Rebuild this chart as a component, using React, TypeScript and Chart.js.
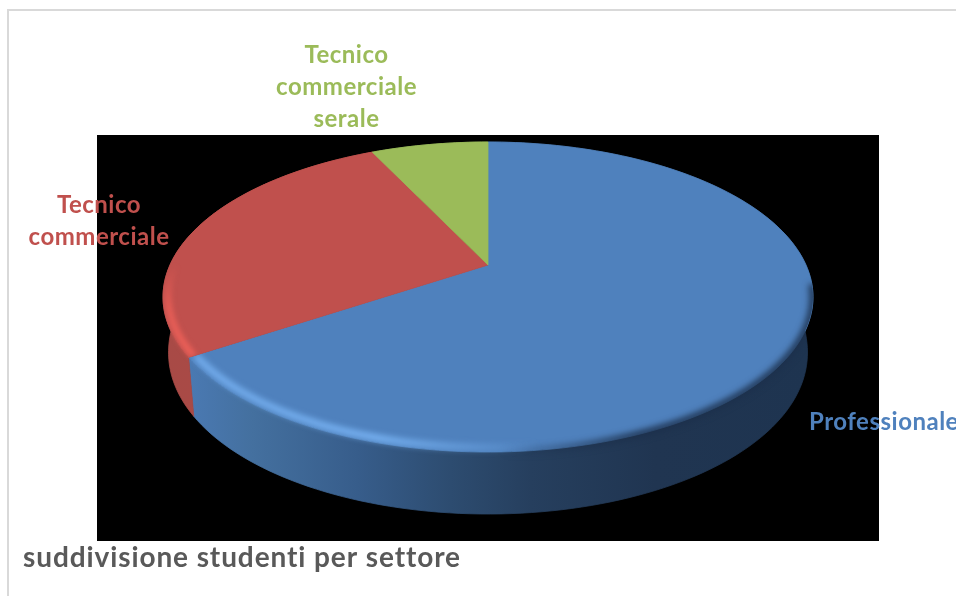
import React, { useEffect, useRef } from "react";
import { Chart, registerables } from "chart.js";

Chart.register(...registerables);

const categories = ["Professionale", "Tecnico commerciale", "Tecnico commerciale serale"];
const shares = [65.7, 27.2, 7.1];
const sliceColors = ["#4f81bd", "#c0504d", "#9bbb59"];
const labelLines = [["Professionale"], ["Tecnico", "commerciale"], ["Tecnico", "commerciale", "serale"]];
const chartTitle = "suddivisione studenti per settore";

const FONT = "Lato, Carlito, 'Open Sans', sans-serif";

// Perspective projection of the unit disc onto the page.
const TILT = 0.2065;
const HALF_WIDTH = 318;
const HALF_DEPTH = 148.4;

type Pt = { x: number; y: number; v: number };

function projector(area: { left: number; right: number; top: number }) {
  const cx = (area.left + area.right) / 2;
  const apexY = area.top + 130;
  return (angle: number, r = 1): Pt => {
    const u = Math.cos(angle) * r;
    const v = -Math.sin(angle) * r;
    const w = 1 + TILT * v;
    return { x: cx + (HALF_WIDTH * u) / w, y: apexY - (HALF_DEPTH * v) / w, v };
  };
}

function rimPoints(project: (a: number, r?: number) => Pt, start: number, end: number, r = 1) {
  const steps = Math.max(8, Math.ceil(((end - start) / (Math.PI * 2)) * 240));
  const pts: Pt[] = [];
  for (let i = 0; i <= steps; i++) pts.push(project(start + ((end - start) * i) / steps, r));
  return pts;
}

function lowered(p: Pt, cx: number): { x: number; y: number } {
  const drop = 50 + 12 * Math.sqrt(Math.max(0, -p.v));
  return { x: cx + (p.x - cx) * 0.983, y: p.y + drop };
}

function horizontalGradient(ctx: CanvasRenderingContext2D, x0: number, x1: number, stops: [number, string][]) {
  const g = ctx.createLinearGradient(x0, 0, x1, 0);
  stops.forEach(([o, c]) => g.addColorStop(o, c));
  return g;
}

function polyline(pts: { x: number; y: number }[]) {
  const path = new Path2D();
  pts.forEach((p, k) => (k ? path.lineTo(p.x, p.y) : path.moveTo(p.x, p.y)));
  return path;
}

const disc3d = {
  id: "disc3d",
  beforeDraw(chart: Chart) {
    const { ctx, chartArea } = chart;
    ctx.save();
    ctx.fillStyle = "#ffffff";
    ctx.fillRect(0, 0, chart.width, chart.height);
    // Page frame, open to the right and bottom
    ctx.strokeStyle = "#d9d9d9";
    ctx.lineWidth = 2;
    ctx.strokeRect(8, 10, chart.width + 20, chart.height + 20);
    ctx.fillStyle = "#000000";
    ctx.fillRect(chartArea.left, chartArea.top, chartArea.width, chartArea.height);
    ctx.restore();
  },
  beforeDatasetsDraw(chart: Chart) {
    const { ctx, chartArea } = chart;
    const project = projector(chartArea);
    const cx = (chartArea.left + chartArea.right) / 2;
    const apex = project(0, 0);
    const arcs = chart.getDatasetMeta(0).data as any[];

    const sideFill = [
      horizontalGradient(ctx, 190, 810, [
        [0, "#4a79b2"],
        [0.1, "#44709f"],
        [0.27, "#375d8b"],
        [0.42, "#2d4c70"],
        [0.55, "#263f5e"],
        [0.75, "#203551"],
        [1, "#1e3450"],
      ]),
      horizontalGradient(ctx, 163, 196, [
        [0, "#a84a46"],
        [1, "#a94a46"],
      ]),
      "#6f8a40",
    ];

    // Side wall under each slice's rim; the thin stroke closes seams between slices
    const walls = arcs.map((arc) => {
      const pts = rimPoints(project, arc.startAngle, arc.endAngle);
      const wall = polyline([...pts, ...[...pts].reverse().map((p) => lowered(p, cx))]);
      wall.closePath();
      return wall;
    });
    ctx.lineWidth = 0.8;
    walls.forEach((wall, i) => {
      ctx.fillStyle = sideFill[i];
      ctx.strokeStyle = sideFill[i];
      ctx.fill(wall);
      ctx.stroke(wall);
    });

    // Top face of each slice, with a soft bevel along the rim
    arcs.forEach((arc, i) => {
      const pts = rimPoints(project, arc.startAngle, arc.endAngle);
      const outline = polyline([apex, ...pts]);
      outline.closePath();
      ctx.fillStyle = sliceColors[i];
      ctx.strokeStyle = sliceColors[i];
      ctx.lineWidth = 0.8;
      ctx.fill(outline);
      ctx.stroke(outline);
      if (i === 2) return;

      const shape = new Path2D();
      shape.addPath(outline);
      shape.addPath(walls[i]);
      ctx.save();
      ctx.clip(shape);
      if (i === 0) {
        // Dark shoulder on the right of the rim
        ctx.filter = "blur(3px)";
        ctx.lineWidth = 7;
        ctx.strokeStyle = horizontalGradient(ctx, 190, 813, [
          [0.5, "rgba(28,48,76,0)"],
          [0.6, "rgba(28,48,76,0.45)"],
          [0.72, "rgba(28,48,76,0.95)"],
          [1, "rgba(28,48,76,0.95)"],
        ]);
        ctx.stroke(polyline(rimPoints(project, arc.startAngle, arc.endAngle, 1.0).filter((p) => p.v < -0.12 && p.x > 460)));
        // Light edge on the left of the rim
        ctx.filter = "blur(3px)";
        ctx.lineWidth = 6;
        ctx.strokeStyle = horizontalGradient(ctx, 190, 813, [
          [0, "rgba(125,185,250,0.9)"],
          [0.3, "rgba(125,185,250,1)"],
          [0.46, "rgba(125,185,250,0.4)"],
          [0.56, "rgba(125,185,250,0)"],
        ]);
        ctx.stroke(polyline(rimPoints(project, arc.startAngle, arc.endAngle, 0.98).filter((p) => p.v < -0.12 && p.x < 600)));
      } else {
        const g = ctx.createLinearGradient(0, 265, 0, 350);
        g.addColorStop(0, "rgba(236,96,88,0)");
        g.addColorStop(0.5, "rgba(236,96,88,0.8)");
        g.addColorStop(1, "rgba(236,96,88,0.95)");
        ctx.filter = "blur(2.5px)";
        ctx.lineWidth = 7;
        ctx.strokeStyle = g;
        ctx.stroke(polyline(rimPoints(project, arc.startAngle, arc.endAngle, 0.985).filter((p) => p.v < 0.08)));
      }
      ctx.restore();
    });
    return false;
  },
  afterDraw(chart: Chart) {
    const { ctx } = chart;
    const anchors = [
      { x: 884, y: 422, lead: 32 },
      { x: 99, y: 205, lead: 32 },
      { x: 346.5, y: 55, lead: 32 },
    ];
    ctx.save();
    ctx.font = `bold 24px ${FONT}`;
    (ctx as any).letterSpacing = "0.5px";
    ctx.textAlign = "center";
    ctx.textBaseline = "middle";
    labelLines.forEach((lines, i) => {
      ctx.fillStyle = sliceColors[i];
      lines.forEach((line, k) => ctx.fillText(line, anchors[i].x, anchors[i].y + k * anchors[i].lead));
    });
    ctx.textAlign = "left";
    ctx.fillStyle = "#595959";
    ctx.font = `bold 28px ${FONT}`;
    (ctx as any).letterSpacing = "0.9px";
    ctx.fillText(chartTitle, 23, 558);
    ctx.restore();
  },
};

export default function App() {
  const ref = useRef<HTMLCanvasElement>(null);
  useEffect(() => {
    document.body.style.margin = "0";
    const chart = new Chart(ref.current!, {
      type: "pie",
      data: {
        labels: categories,
        datasets: [{ data: shares, backgroundColor: sliceColors, borderWidth: 0 }],
      },
      options: {
        responsive: false,
        animation: false,
        layout: { padding: { left: 97, top: 135, right: 77, bottom: 55 } },
        plugins: { legend: { display: false }, tooltip: { enabled: false } },
      },
      plugins: [disc3d],
    });
    return () => chart.destroy();
  }, []);
  return <canvas ref={ref} width={956} height={596} style={{ display: "block" }} />;
}
